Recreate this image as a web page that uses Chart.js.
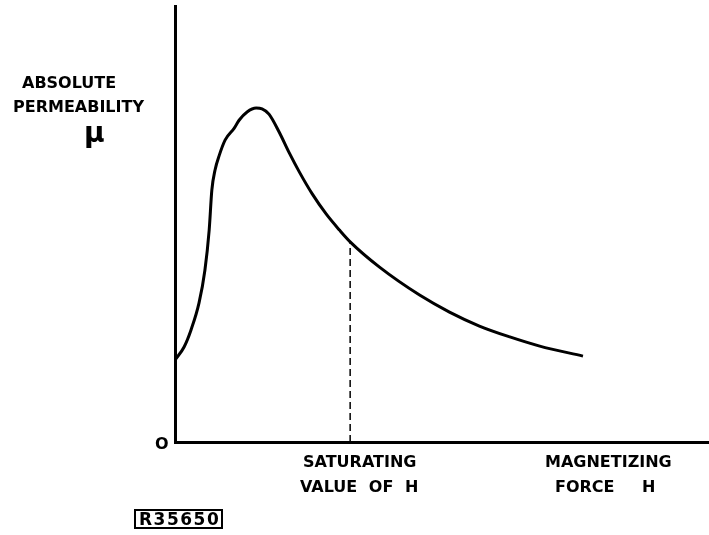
<!DOCTYPE html>
<html>
<head>
<meta charset="utf-8">
<script src="https://cdn.jsdelivr.net/npm/chart.js@4/dist/chart.umd.min.js"></script>
<style>
body { margin: 0; background: #fff; }
</style>
</head>
<body>
<canvas id="permChart" width="709" height="535"></canvas>
<script>
// magnetizing force H (arbitrary units) and permeability mu (arbitrary units)
const hValues  = [0, 0.17, 0.30, 0.45, 0.56, 0.64, 0.69, 0.75, 0.83, 0.94, 1.11, 1.20, 1.35, 1.52, 1.63, 1.76, 1.95, 2.14, 2.33, 2.57, 2.83, 3.08, 3.28, 3.83, 4.58, 5.14, 5.70, 6.27, 6.83, 7.64];
const muValues = [18.8, 21.8, 25.7, 31.9, 39.4, 48.6, 57.8, 62.4, 65.8, 69.3, 72.0, 73.8, 75.7, 76.6, 76.4, 75.2, 71.1, 66.3, 61.9, 56.9, 52.3, 48.6, 45.9, 40.1, 33.7, 29.8, 26.6, 24.1, 22.0, 19.7];
const saturatingH = 3.28;
const saturatingMu = 45.9;

const curve = hValues.map((h, i) => ({x: h, y: muValues[i]}));

const labelPlugin = {
	id: 'labels',
	afterDraw(chart) {
		const c = chart.ctx;
		c.save();
		c.fillStyle = '#000';
		c.textBaseline = 'alphabetic';
		c.font = 'bold 16px "DejaVu Sans"';
		c.fillText('ABSOLUTE', 22, 88);
		c.fillText('PERMEABILITY', 13, 112);
		c.fillText('SATURATING', 303, 467);
		c.fillText('MAGNETIZING', 545, 467);
		c.wordSpacing = '6px';
		c.fillText('VALUE OF H', 300, 492);
		c.wordSpacing = '22px';
		c.fillText('FORCE H', 555, 492);
		c.wordSpacing = '0px';
		c.fillText('O', 155, 449);
		c.font = 'bold 28px "DejaVu Sans"';
		c.fillText('\u03BC', 84, 142);
		c.font = 'bold 17px "DejaVu Sans"';
		c.letterSpacing = '1.5px';
		c.fillText('R35650', 139, 525);
		c.letterSpacing = '0px';
		c.lineWidth = 2;
		c.strokeRect(135, 510, 87, 18);
		c.restore();
	}
};

new Chart(document.getElementById('permChart'), {
	type: 'line',
	data: {
		datasets: [{
			data: curve,
			borderColor: '#000',
			borderWidth: 3,
			pointRadius: 0,
			cubicInterpolationMode: 'monotone',
			fill: false
		}, {
			data: [{x: saturatingH, y: 0}, {x: saturatingH, y: saturatingMu}],
			borderColor: '#000',
			borderWidth: 1.5,
			borderDash: [7, 4],
			pointRadius: 0,
			fill: false
		}]
	},
	options: {
		responsive: false,
		animation: false,
		layout: { padding: { left: 175, top: 6, right: 0, bottom: 93 } },
		plugins: { legend: { display: false }, tooltip: { enabled: false } },
		scales: {
			x: {
				type: 'linear', min: 0, max: 10,
				ticks: { display: false },
				grid: { display: false, drawTicks: false },
				border: { display: true, color: '#000', width: 3 }
			},
			y: {
				min: 0, max: 100,
				ticks: { display: false },
				grid: { display: false, drawTicks: false },
				border: { display: true, color: '#000', width: 3 }
			}
		}
	},
	plugins: [labelPlugin]
});
</script>
</body>
</html>
